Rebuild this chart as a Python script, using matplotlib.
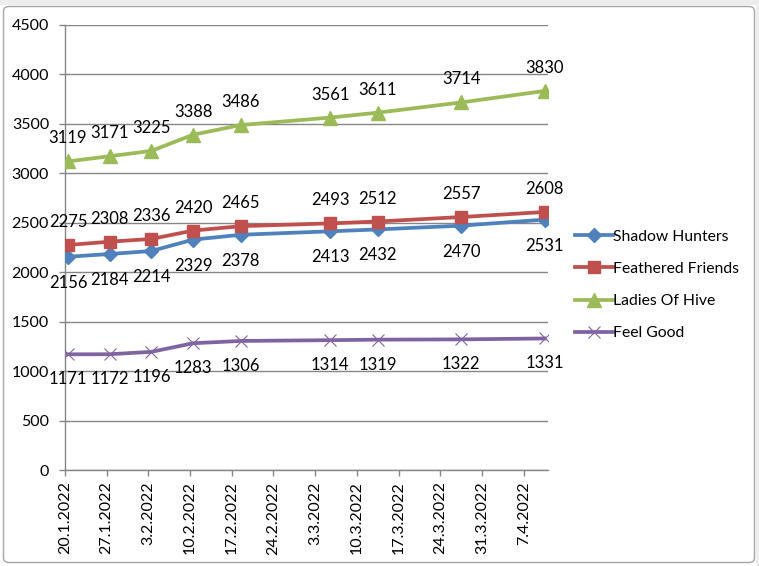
import matplotlib
matplotlib.use("Agg")
import matplotlib.pyplot as plt
import matplotlib.dates as mdates
from matplotlib.patches import FancyBboxPatch, Rectangle
import datetime as dt

plt.rcParams['font.family'] = ['Lato', 'DejaVu Sans']

dates = ["2022-01-20", "2022-01-27", "2022-02-03", "2022-02-10", "2022-02-18",
         "2022-03-05", "2022-03-13", "2022-03-27", "2022-04-10"]
shadow_hunters = [2156, 2184, 2214, 2329, 2378, 2413, 2432, 2470, 2531]
feathered_friends = [2275, 2308, 2336, 2420, 2465, 2493, 2512, 2557, 2608]
ladies_of_hive = [3119, 3171, 3225, 3388, 3486, 3561, 3611, 3714, 3830]
feel_good = [1171, 1172, 1196, 1283, 1306, 1314, 1319, 1322, 1331]
series_names = ["Shadow Hunters", "Feathered Friends", "Ladies Of Hive", "Feel Good"]
y_ticks = [0, 500, 1000, 1500, 2000, 2500, 3000, 3500, 4000, 4500]
axis_start = "2022-01-20"
axis_days = 81

W, H = 759, 566
fig = plt.figure(figsize=(W / 100, H / 100), dpi=100)
fig.patch.set_facecolor('white')

# Excel-like top strip and border
fig.patches.append(Rectangle((0, 1 - 5 / H), 1, 5 / H, transform=fig.transFigure,
                             facecolor='#EDEDED', edgecolor='none', zorder=-3))
fig.patches.append(Rectangle((1 - 3 / W, 0), 3 / W, 1, transform=fig.transFigure,
                             facecolor='#EDEDED', edgecolor='none', zorder=-3))
fig.patches.append(FancyBboxPatch((3.5 / W, 3.5 / H), (W - 8) / W, (H - 10) / H,
                                  boxstyle="round,pad=0,rounding_size=0.008",
                                  transform=fig.transFigure, facecolor='white',
                                  edgecolor='#A6A6A6', linewidth=1.0, zorder=-2))

ax = fig.add_axes([65 / W, (H - 470.3) / H, (547.5 - 65) / W, (470.3 - 24.6) / H])
ax.set_facecolor('none')

x0 = mdates.date2num(dt.datetime.strptime(axis_start, "%Y-%m-%d"))
xs = [mdates.date2num(dt.datetime.strptime(d, "%Y-%m-%d")) + 0.5 for d in dates]

styles = [
    (shadow_hunters, '#4F81BD', 'D', 7, -26),
    (feathered_friends, '#C0504D', 's', 8.5, 23),
    (ladies_of_hive, '#9BBB59', '^', 9.5, 23),
    (feel_good, '#8064A2', 'x', 9, -25),
]
handles = []
for (vals, col, mk, ms, dy), name in zip(styles, series_names):
    if mk == 'x':
        l, = ax.plot(xs, vals, color=col, lw=2.7, marker='x', ms=ms, mew=0.8,
                     mec='#8064A2', zorder=3, label=name)
    else:
        l, = ax.plot(xs, vals, color=col, lw=2.7, marker=mk, ms=ms, mec=col,
                     mfc=col, zorder=3, label=name)
    handles.append(l)
    for x, v in zip(xs, vals):
        ax.annotate(str(v), (x, v), xytext=(0, dy), textcoords='offset pixels',
                    ha='center', va='center', fontsize=12, color='black', zorder=4)

ax.set_xlim(x0, x0 + axis_days)
ax.set_ylim(0, 4500)
ax.set_yticks(y_ticks)
ax.set_yticklabels([str(t) for t in y_ticks], fontsize=11.5)
ax.grid(axis='y', color='#868686', lw=1.0)
ax.set_axisbelow(True)

tick_dates = [x0 + 7 * i for i in range(12)]
ax.set_xticks(tick_dates)
lbls = []
for t in tick_dates:
    d = mdates.num2date(t)
    lbls.append(f"{d.day}.{d.month}.{d.year}")
ax.set_xticklabels(lbls, rotation=90, fontsize=11.5, va='top', ha='center')

for s in ['top', 'right']:
    ax.spines[s].set_visible(False)
for s in ['left', 'bottom']:
    ax.spines[s].set_color('#868686')
    ax.spines[s].set_linewidth(1.0)
ax.tick_params(axis='y', length=4.5, width=1, color='#868686', pad=7)
ax.tick_params(axis='x', length=4, width=1, color='#868686', pad=4)

leg = fig.legend(handles=handles, loc='center left',
                 bbox_to_anchor=(561 / W, (H - 285) / H), frameon=False,
                 fontsize=11.3, handlelength=2.4, labelspacing=1.15,
                 handletextpad=0.0)

fig.savefig("out.png", dpi=100)
